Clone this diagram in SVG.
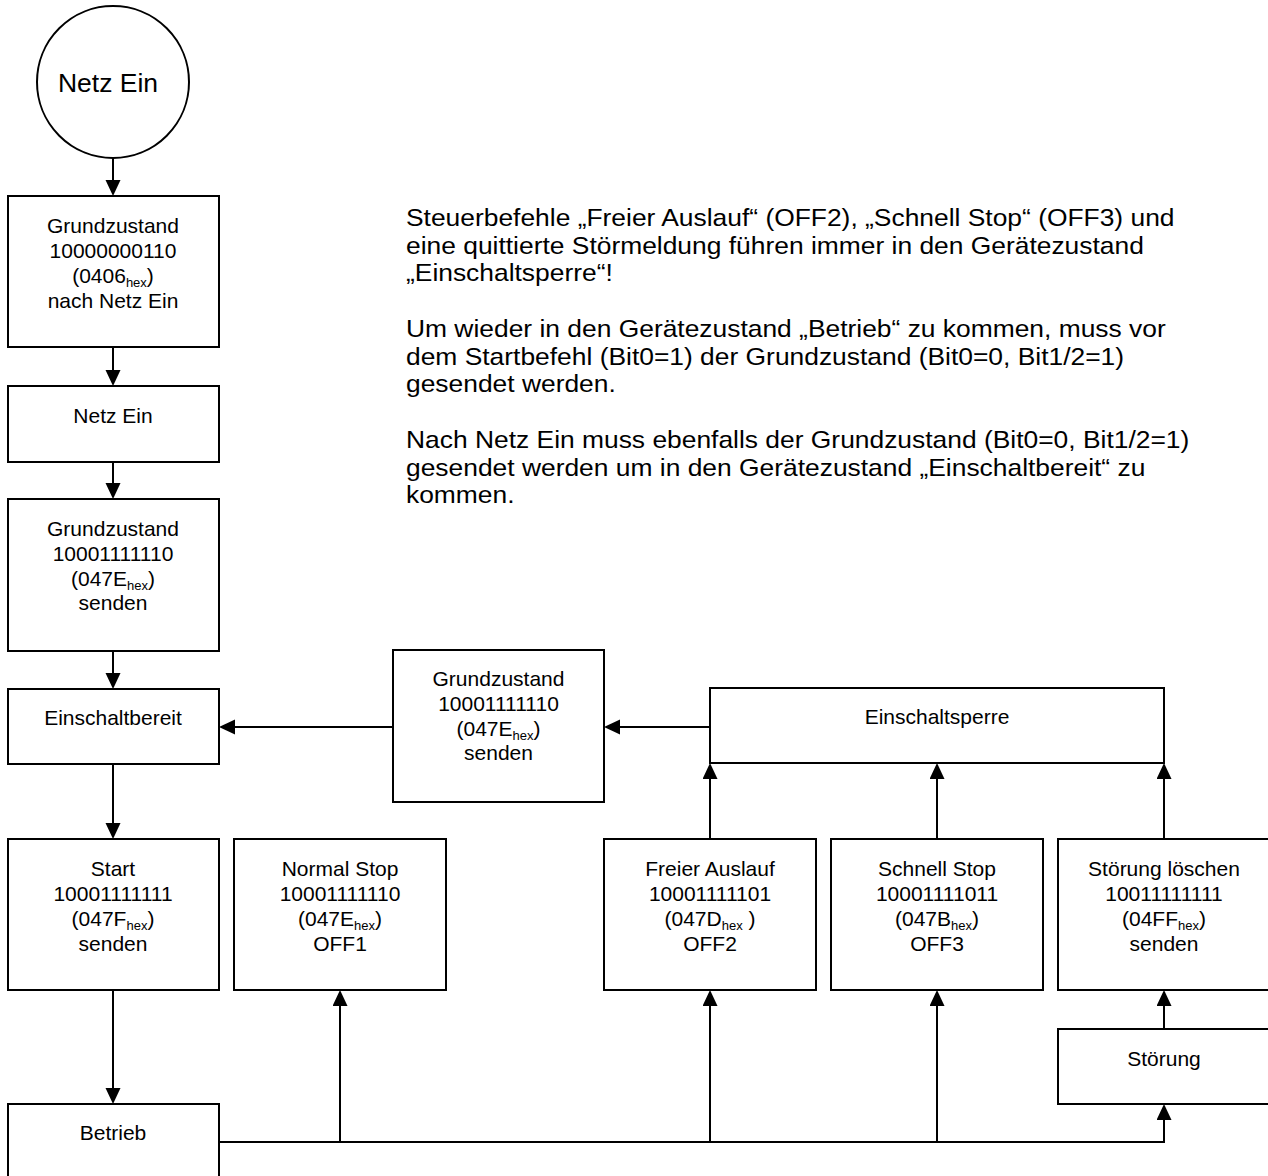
<svg xmlns="http://www.w3.org/2000/svg" width="1268" height="1176" viewBox="0 0 1268 1176">
<style>
  .box{fill:#fff;stroke:#000;stroke-width:2}
  .t{font-family:"Liberation Sans",Arial,sans-serif;font-size:21px;fill:#000;text-anchor:middle}
  .sub{font-size:13px}
  .big{font-family:"Liberation Sans",Arial,sans-serif;font-size:26.5px;fill:#000}
  .p{font-family:"Liberation Sans",Arial,sans-serif;font-size:24px;fill:#000}
  .c{fill:none;stroke:#000;stroke-width:2}
</style>
<defs>
  <marker id="ah" markerUnits="userSpaceOnUse" markerWidth="17" markerHeight="16" refX="0" refY="7.5" orient="auto">
    <path d="M0,0 L16,7.5 L0,15 Z" fill="#000"/>
  </marker>
</defs>
<rect x="0" y="0" width="1268" height="1176" fill="#fff"/>

<g id="connectors">
  <line class="c" x1="113" y1="158" x2="113" y2="180" marker-end="url(#ah)"/>
  <line class="c" x1="113" y1="347" x2="113" y2="370" marker-end="url(#ah)"/>
  <line class="c" x1="113" y1="462" x2="113" y2="483" marker-end="url(#ah)"/>
  <line class="c" x1="113" y1="651" x2="113" y2="673" marker-end="url(#ah)"/>
  <line class="c" x1="393" y1="727" x2="235" y2="727" marker-end="url(#ah)"/>
  <line class="c" x1="710" y1="727" x2="620" y2="727" marker-end="url(#ah)"/>
  <line class="c" x1="113" y1="764" x2="113" y2="823" marker-end="url(#ah)"/>
  <line class="c" x1="113" y1="990" x2="113" y2="1088" marker-end="url(#ah)"/>
  <line class="c" x1="710" y1="839" x2="710" y2="779" marker-end="url(#ah)"/>
  <line class="c" x1="937" y1="839" x2="937" y2="779" marker-end="url(#ah)"/>
  <line class="c" x1="1164" y1="839" x2="1164" y2="779" marker-end="url(#ah)"/>
  <polyline class="c" points="219,1142 1164,1142 1164,1120" marker-end="url(#ah)"/>
  <line class="c" x1="340" y1="1142" x2="340" y2="1006" marker-end="url(#ah)"/>
  <line class="c" x1="710" y1="1142" x2="710" y2="1006" marker-end="url(#ah)"/>
  <line class="c" x1="937" y1="1142" x2="937" y2="1006" marker-end="url(#ah)"/>
  <line class="c" x1="1164" y1="1029" x2="1164" y2="1006" marker-end="url(#ah)"/>
</g>

<g id="netz-ein-start">
  <circle cx="113" cy="82" r="76" class="box"/>
  <text x="108" y="92" class="big" text-anchor="middle">Netz Ein</text>
</g>

<g id="grundzustand-1">
  <rect x="8" y="196" width="211" height="151" class="box"/>
  <text class="t" x="113" y="233">Grundzustand</text>
  <text class="t" x="113" y="258">10000000110</text>
  <text class="t" x="113" y="283">(0406<tspan class="sub" dy="4">hex</tspan><tspan dy="-4">)</tspan></text>
  <text class="t" x="113" y="308">nach Netz Ein</text>
</g>

<g id="netz-ein">
  <rect x="8" y="386" width="211" height="76" class="box"/>
  <text class="t" x="113" y="423">Netz Ein</text>
</g>

<g id="grundzustand-2">
  <rect x="8" y="499" width="211" height="152" class="box"/>
  <text class="t" x="113" y="536">Grundzustand</text>
  <text class="t" x="113" y="561">10001111110</text>
  <text class="t" x="113" y="586">(047E<tspan class="sub" dy="4">hex</tspan><tspan dy="-4">)</tspan></text>
  <text class="t" x="113" y="610">senden</text>
</g>

<g id="einschaltbereit">
  <rect x="8" y="689" width="211" height="75" class="box"/>
  <text class="t" x="113" y="725">Einschaltbereit</text>
</g>

<g id="grundzustand-3">
  <rect x="393" y="650" width="211" height="152" class="box"/>
  <text class="t" x="498.5" y="686">Grundzustand</text>
  <text class="t" x="498.5" y="711">10001111110</text>
  <text class="t" x="498.5" y="736">(047E<tspan class="sub" dy="4">hex</tspan><tspan dy="-4">)</tspan></text>
  <text class="t" x="498.5" y="760">senden</text>
</g>

<g id="einschaltsperre">
  <rect x="710" y="688" width="454" height="75" class="box"/>
  <text class="t" x="937" y="724">Einschaltsperre</text>
</g>

<g id="start">
  <rect x="8" y="839" width="211" height="151" class="box"/>
  <text class="t" x="113" y="876">Start</text>
  <text class="t" x="113" y="901">10001111111</text>
  <text class="t" x="113" y="926">(047F<tspan class="sub" dy="4">hex</tspan><tspan dy="-4">)</tspan></text>
  <text class="t" x="113" y="951">senden</text>
</g>

<g id="normal-stop">
  <rect x="234" y="839" width="212" height="151" class="box"/>
  <text class="t" x="340" y="876">Normal Stop</text>
  <text class="t" x="340" y="901">10001111110</text>
  <text class="t" x="340" y="926">(047E<tspan class="sub" dy="4">hex</tspan><tspan dy="-4">)</tspan></text>
  <text class="t" x="340" y="951">OFF1</text>
</g>

<g id="freier-auslauf">
  <rect x="604" y="839" width="212" height="151" class="box"/>
  <text class="t" x="710" y="876">Freier Auslauf</text>
  <text class="t" x="710" y="901">10001111101</text>
  <text class="t" x="710" y="926">(047D<tspan class="sub" dy="4">hex</tspan><tspan dy="-4"> )</tspan></text>
  <text class="t" x="710" y="951">OFF2</text>
</g>

<g id="schnell-stop">
  <rect x="831" y="839" width="212" height="151" class="box"/>
  <text class="t" x="937" y="876">Schnell Stop</text>
  <text class="t" x="937" y="901">10001111011</text>
  <text class="t" x="937" y="926">(047B<tspan class="sub" dy="4">hex</tspan><tspan dy="-4">)</tspan></text>
  <text class="t" x="937" y="951">OFF3</text>
</g>

<g id="stoerung-loeschen">
  <rect x="1058" y="839" width="212" height="151" class="box"/>
  <text class="t" x="1164" y="876">Störung löschen</text>
  <text class="t" x="1164" y="901">10011111111</text>
  <text class="t" x="1164" y="926">(04FF<tspan class="sub" dy="4">hex</tspan><tspan dy="-4">)</tspan></text>
  <text class="t" x="1164" y="951">senden</text>
</g>

<g id="stoerung">
  <rect x="1058" y="1029" width="212" height="75" class="box"/>
  <text class="t" x="1164" y="1066">Störung</text>
</g>

<g id="betrieb">
  <rect x="8" y="1104" width="211" height="80" class="box"/>
  <text class="t" x="113" y="1140">Betrieb</text>
</g>

<g id="hinweis" transform="translate(406,0) scale(1.1,1)">
  <text class="p" x="0" y="226">Steuerbefehle „Freier Auslauf“ (OFF2), „Schnell Stop“ (OFF3) und</text>
  <text class="p" x="0" y="254">eine quittierte Störmeldung führen immer in den Gerätezustand</text>
  <text class="p" x="0" y="281">„Einschaltsperre“!</text>
  <text class="p" x="0" y="337">Um wieder in den Gerätezustand „Betrieb“ zu kommen, muss vor</text>
  <text class="p" x="0" y="365">dem Startbefehl (Bit0=1) der Grundzustand (Bit0=0, Bit1/2=1)</text>
  <text class="p" x="0" y="392">gesendet werden.</text>
  <text class="p" x="0" y="448">Nach Netz Ein muss ebenfalls der Grundzustand (Bit0=0, Bit1/2=1)</text>
  <text class="p" x="0" y="476">gesendet werden um in den Gerätezustand „Einschaltbereit“ zu</text>
  <text class="p" x="0" y="503">kommen.</text>
</g>
</svg>
